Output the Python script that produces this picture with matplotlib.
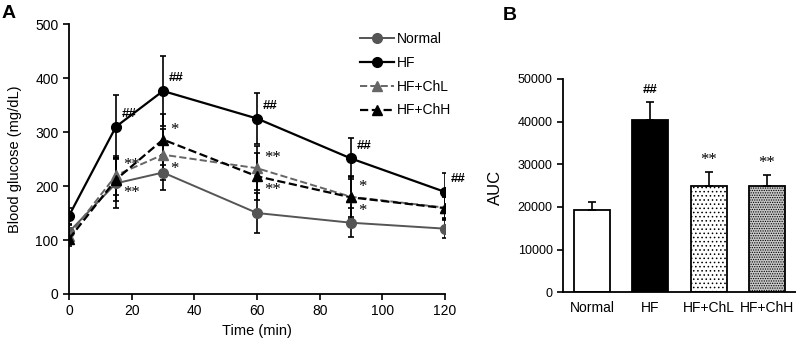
import matplotlib
matplotlib.use('Agg')
import matplotlib.pyplot as plt

plt.rcParams['font.family'] = ['Liberation Sans', 'DejaVu Sans']
plt.rcParams['hatch.linewidth'] = 0.6

# panel A: oral glucose tolerance test
time_min = [0, 15, 30, 60, 90, 120]
normal = [115, 205, 225, 150, 132, 121]
normal_err = [12, 45, 32, 37, 27, 18]
hf = [145, 310, 376, 325, 251, 189]
hf_err = [15, 58, 65, 48, 38, 35]
hf_chl = [108, 220, 258, 233, 180, 160]
hf_chl_err = [14, 36, 47, 41, 37, 20]
hf_chh = [102, 212, 286, 218, 179, 159]
hf_chh_err = [14, 40, 47, 43, 40, 22]
hf_marks = ['', '##', '##', '##', '##', '##']
upper_marks = ['', '**', '*', '**', '*', '']
lower_marks = ['', '**', '*', '**', '*', '']

# panel B: area under curve
groups = ['Normal', 'HF', 'HF+ChL', 'HF+ChH']
auc = [19300, 40500, 25000, 24900]
auc_err = [1900, 4200, 3100, 2500]
auc_marks = ['', '##', '**', '**']


def panel_a(fig):
    ax = fig.add_axes([0.0867, 0.1353, 0.4724, 0.794])
    series = [
        ('Normal', normal, normal_err, '#555555', '-', 'o', 1.4),
        ('HF', hf, hf_err, 'black', '-', 'o', 1.6),
        ('HF+ChL', hf_chl, hf_chl_err, '#666666', '--', '^', 1.4),
        ('HF+ChH', hf_chh, hf_chh_err, 'black', '--', '^', 1.6),
    ]
    handles = []
    names = []
    for name, vals, err, col, ls, mk, lw in series:
        c = ax.errorbar(time_min, vals, yerr=err, color=col, ls=ls, marker=mk,
                        ms=7 if mk == 'o' else 6.5, lw=lw, elinewidth=1.2,
                        ecolor='black', capsize=2.5, capthick=1.2)
        handles.append(c[0])
        names.append(name)

    for t, v, m in zip(time_min, hf, hf_marks):
        if m:
            ax.annotate(m, (t, v), xytext=(4, 9), textcoords='offset points',
                        ha='left', va='center', fontsize=9.5, fontweight='bold')
    for t, a, b, mu, ml in zip(time_min, hf_chl, hf_chh, upper_marks, lower_marks):
        if mu:
            ax.annotate(mu, (t, max(a, b)), xytext=(5, 7), textcoords='offset points',
                        ha='left', va='center', fontsize=12, family='Liberation Serif')
        if ml:
            ax.annotate(ml, (t, min(a, b)), xytext=(5, -10), textcoords='offset points',
                        ha='left', va='center', fontsize=12, family='Liberation Serif')

    ax.set_xlim(0, 120)
    ax.set_ylim(0, 500)
    ax.set_xticks(range(0, 121, 20))
    ax.set_yticks(range(0, 501, 100))
    ax.spines['top'].set_visible(False)
    ax.spines['right'].set_visible(False)
    for s in ['left', 'bottom']:
        ax.spines[s].set_linewidth(1.3)
    ax.tick_params(direction='out', length=4, width=1.2, labelsize=10)
    ax.set_xlabel('Time (min)', fontsize=10.5, labelpad=4)
    ax.set_ylabel('Blood glucose (mg/dL)', fontsize=10.5)
    ax.yaxis.set_label_coords(-0.125, 0.5)
    ax.legend(handles, names, loc='upper left', bbox_to_anchor=(0.76, 0.99),
              frameon=False, fontsize=10, handlelength=2.4, handletextpad=0.2,
              labelspacing=0.7, borderaxespad=0)
    fig.text(0.002, 0.947, 'A', fontsize=14, fontweight='bold')


def panel_b(fig):
    ax = fig.add_axes([0.7073, 0.1403, 0.2927, 0.6274])
    x = range(len(groups))
    faces = ['white', 'black', 'white', '#c8c8c8']
    hatches = [None, None, '....', '.......']
    bars = ax.bar(x, auc, width=0.62, color=faces, edgecolor='black', linewidth=1.3)
    for b, h in zip(bars, hatches):
        if h:
            b.set_hatch(h)
    ax.errorbar(x, auc, yerr=[[0] * len(auc), auc_err], fmt='none', ecolor='black',
                elinewidth=1.2, capsize=3, capthick=1.2)
    for i, (v, e, m) in enumerate(zip(auc, auc_err, auc_marks)):
        if m:
            if m == '##':
                ax.annotate(m, (i, v + e), xytext=(0, 8), textcoords='offset points',
                            ha='center', va='center', fontsize=9.5, fontweight='bold')
            else:
                ax.annotate(m, (i, v + e), xytext=(0, 9), textcoords='offset points',
                            ha='center', va='center', fontsize=12,
                            family='Liberation Serif')
    ax.set_xlim(-0.5, 3.5)
    ax.set_ylim(0, 50000)
    ax.set_yticks(range(0, 50001, 10000))
    ax.set_xticks(list(x))
    ax.set_xticklabels(groups)
    ax.spines['top'].set_visible(False)
    ax.spines['right'].set_visible(False)
    for s in ['left', 'bottom']:
        ax.spines[s].set_linewidth(1.3)
    ax.tick_params(axis='y', direction='out', length=4, width=1.2, labelsize=9)
    ax.tick_params(axis='x', length=0, labelsize=10, pad=6)
    ax.set_ylabel('AUC', fontsize=12)
    ax.yaxis.set_label_coords(-0.258, 0.49)
    fig.text(0.632, 0.941, 'B', fontsize=14, fontweight='bold')


def main():
    fig = plt.figure(figsize=(7.96, 3.4), dpi=100)
    panel_a(fig)
    panel_b(fig)
    fig.savefig('out.png', dpi=100)


if __name__ == '__main__':
    main()
